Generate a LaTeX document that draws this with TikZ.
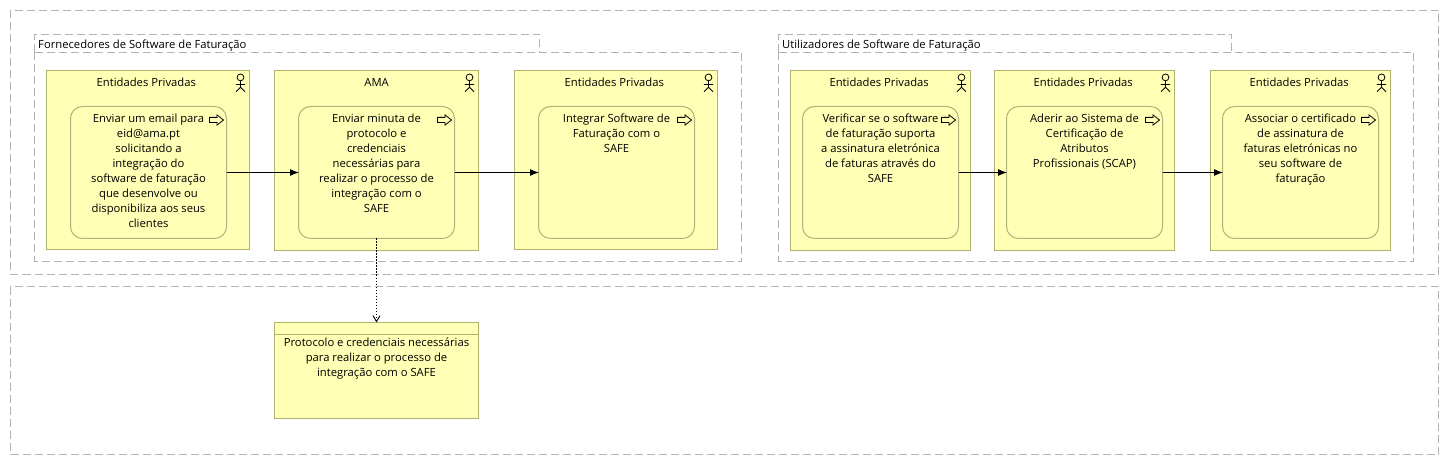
\documentclass[tikz,border=0pt]{standalone}
\usepackage{fontspec}
\setmainfont{Open Sans}
\usetikzlibrary{arrows.meta}
\definecolor{fillY}{RGB}{255,255,181}
\definecolor{edgeY}{RGB}{178,178,112}
\definecolor{edgeP}{RGB}{178,178,125}
\definecolor{dashG}{RGB}{178,178,178}
\newcommand{\txtfont}{\fontsize{11.25}{15}\selectfont}
\newcommand{\topstrut}{\rule{0pt}{9pt}}
\tikzset{
  grp/.style={draw=dashG,line width=1pt,dash pattern=on 8pt off 4pt},
  lbl/.style={inner sep=0pt,font=\txtfont,align=center,text=black},
  conn/.style={line width=1pt,draw=black,shorten >=-0.5pt,-{Latex[length=9pt,width=7pt]}},
  dep/.style={line width=0.9pt,draw=black,dash pattern=on 1.5pt off 1.5pt,-{Straight Barb[length=6pt,width=7pt]}},
  actorbox/.style={rectangle,draw=edgeY,fill=fillY,line width=1pt,inner sep=0pt,outer sep=0pt,anchor=north west},
  procbox/.style={rectangle,rounded corners=12pt,draw=edgeP,fill=fillY,line width=1pt,inner sep=0pt,outer sep=0pt,anchor=north west,minimum width=156pt,minimum height=132pt},
  icon/.style={draw=black,line width=0.8pt,fill=none}
}
% name, left, right, box height, title x, title
\newcommand{\actorfig}[6]{%
  \pgfmathsetmacro{\boxw}{#3-#2}
  \node[actorbox,minimum width=\boxw pt,minimum height=#4 pt] (#1) at (#2,70.5) {};
  \node[lbl,anchor=north] (#1t) at (#5,77) {\topstrut #6};
  \begin{scope}[shift={(#3-9,0)}]
    \draw[icon] (0,77.4) circle (3.4);
    \draw[icon] (0,80.8) -- (0,87.3) (-4.7,84.5) -- (4.7,84.5) (-4.5,91.7) -- (0,87.3) -- (4.5,91.7);
  \end{scope}}
% name, left, multi-line text
\newcommand{\procfig}[3]{%
  \node[procbox] (#1) at (#2,106.5) {};
  \node[lbl,anchor=north] (#1t) at ({#2+78},113.3) {\topstrut #3};
  \begin{scope}[shift={(#2+156,0)}]
    \draw[icon,fill=none] (-17,117.4) -- (-9.5,117.4) -- (-9.5,114.9) -- (-3,120) -- (-9.5,125.1) -- (-9.5,122.6) -- (-17,122.6) -- cycle;
  \end{scope}}
\begin{document}
\begin{tikzpicture}[x=1pt,y=-1pt]
\useasboundingbox (0,0) rectangle (1449,465);
\draw[grp] (10.5,10.5) rectangle (1438.5,274.5);
\draw[grp] (10.5,286.5) rectangle (1438.5,454.5);
% groups
\draw[grp] (34.5,52.5) -- (34.5,34.5) -- (539.5,34.5) -- (539.5,52.5);
\draw[grp] (34.5,52.5) rectangle (741.5,261.5);
\node[lbl,anchor=north west] (g1) at (38,39) {\topstrut Fornecedores de Software de Faturação};
\draw[grp] (778.5,52.5) -- (778.5,34.5) -- (1231.5,34.5) -- (1231.5,52.5);
\draw[grp] (778.5,52.5) rectangle (1413.5,261.5);
\node[lbl,anchor=north west] (g2) at (782,39) {\topstrut Utilizadores de Software de Faturação};
% actors
\actorfig{a1}{46.5}{249.5}{179}{146.3}{Entidades Privadas}
\actorfig{a2}{274.5}{478.5}{180}{376.6}{AMA}
\actorfig{a3}{514.5}{717.5}{179}{614.3}{Entidades Privadas}
\actorfig{a4}{790.5}{970.5}{180}{879.2}{Entidades Privadas}
\actorfig{a5}{994.5}{1174.5}{180}{1083.2}{Entidades Privadas}
\actorfig{a6}{1210.5}{1390.5}{180}{1299.2}{Entidades Privadas}
% processes
\procfig{p1}{70.5}{Enviar um email para\\eid@ama.pt\\solicitando a\\integração do\\software de faturação\\que desenvolve ou\\disponibiliza aos seus\\clientes}
\procfig{p2}{298.5}{Enviar minuta de\\protocolo e\\credenciais\\necessárias para\\realizar o processo de\\integração com o\\SAFE}
\procfig{p3}{538.5}{Integrar Software de\\Faturação com o\\SAFE}
\procfig{p4}{802.5}{Verificar se o software\\de faturação suporta\\a assinatura eletrónica\\de faturas através do\\SAFE}
\procfig{p5}{1006.5}{Aderir ao Sistema de\\Certificação de\\Atributos\\Profissionais (SCAP)}
\procfig{p6}{1222.5}{Associar o certificado\\de assinatura de\\faturas eletrónicas no\\seu software de\\faturação}
% data object
\node[actorbox,minimum width=204pt,minimum height=96pt] (d1) at (274.5,322.5) {};
\draw[draw=edgeY,line width=1pt] (274.5,334.5) -- (478.5,334.5);
\node[lbl,anchor=north] (d1t) at (376.5,337.2) {\topstrut Protocolo e credenciais necessárias\\para realizar o processo de\\integração com o SAFE};
% connectors
\draw[conn] (p1.east) -- (p2.west);
\draw[conn] (p2.east) -- (p3.west);
\draw[conn] (p4.east) -- (p5.west);
\draw[conn] (p5.east) -- (p6.west);
\draw[dep] (p2.south) -- (d1.north);
\end{tikzpicture}
\end{document}
